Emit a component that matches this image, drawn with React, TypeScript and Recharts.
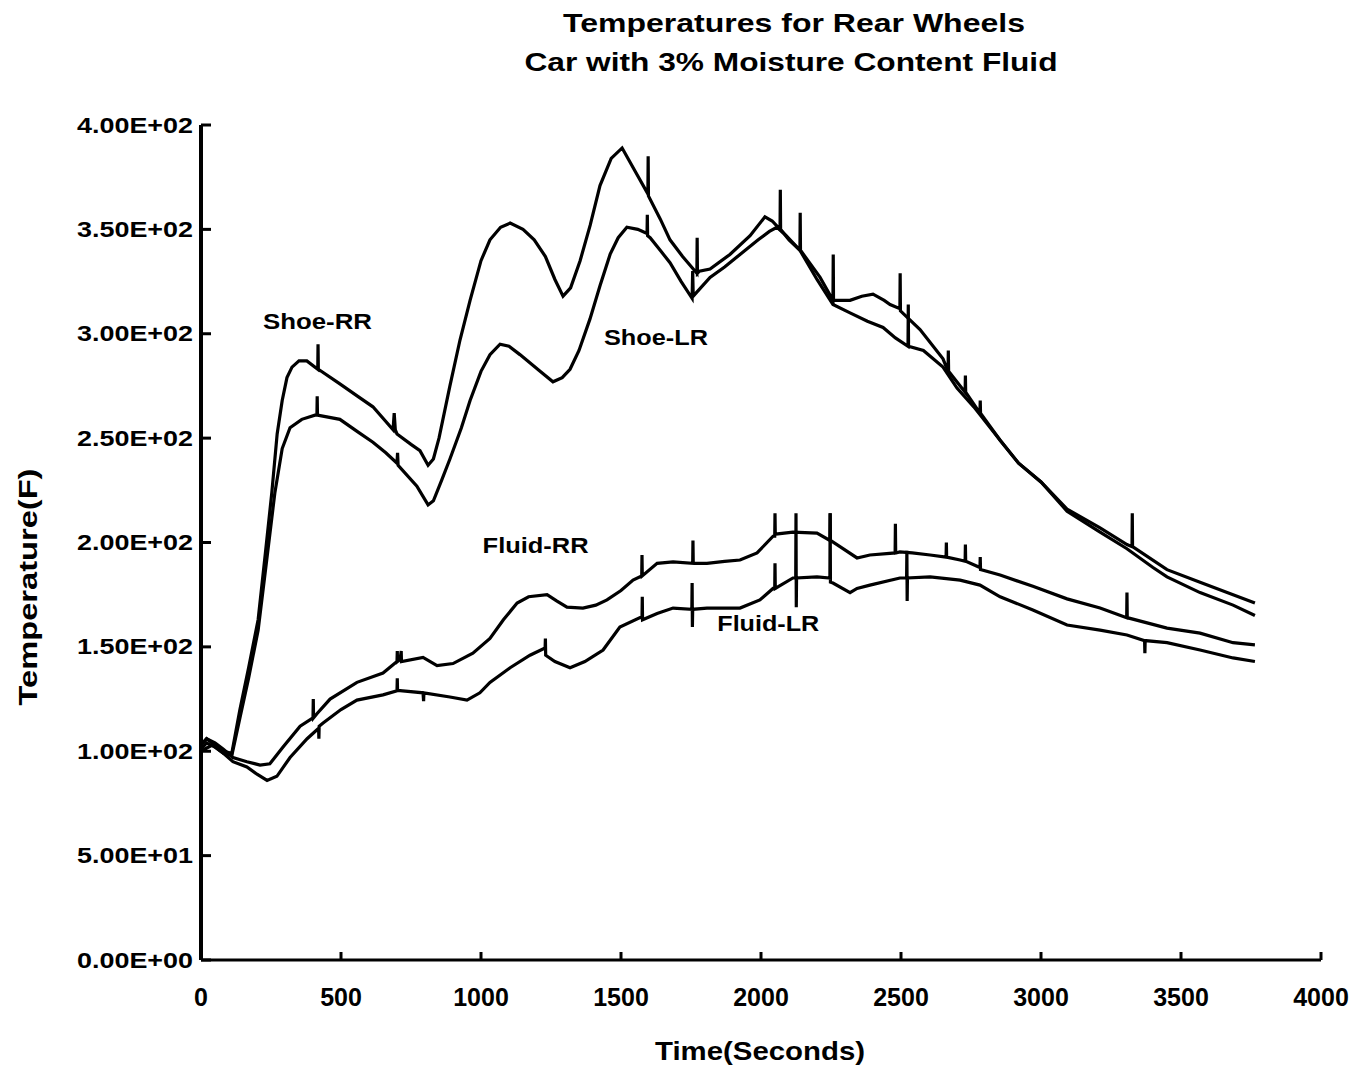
import React from 'react';
import { LineChart, Line, XAxis, YAxis, ReferenceDot } from 'recharts';

const FONT = '"Liberation Sans", Arial, Helvetica, sans-serif';

const titleLines = ['Temperatures for Rear Wheels', 'Car with 3% Moisture Content Fluid'];
const xAxisTitle = 'Time(Seconds)';
const yAxisTitle = 'Temperature(F)';

const xTicks = [0, 500, 1000, 1500, 2000, 2500, 3000, 3500, 4000];
const yTicks = [0, 50, 100, 150, 200, 250, 300, 350, 400];
const yTickLabels = ['0.00E+00', '5.00E+01', '1.00E+02', '1.50E+02', '2.00E+02', '2.50E+02', '3.00E+02', '3.50E+02', '4.00E+02'];

// [time (s), temperature (F)]
const shoeRR: [number, number][] = [
  [0, 103], [20, 106], [40, 104], [80, 100], [110, 99], [139, 120], [170, 140], [204, 163], [230, 195], [253, 224],
  [272, 252], [290, 268], [307, 279], [325, 284], [350, 287], [378, 287], [417, 283], [418, 295], [419, 283],
  [496, 276], [560, 270], [614, 265], [686, 254], [690, 262], [694, 254], [700, 252], [750, 247], [782, 244],
  [811, 237], [830, 240], [850, 250], [889, 275], [925, 297], [961, 316], [1000, 335], [1032, 345], [1070, 351],
  [1104, 353], [1150, 350], [1190, 345], [1230, 337], [1264, 326], [1293, 318], [1320, 322], [1354, 335],
  [1390, 352], [1425, 371], [1465, 384], [1504, 389], [1550, 378], [1596, 367], [1597, 385], [1598, 366],
  [1640, 355], [1675, 345], [1720, 337], [1771, 329], [1772, 346], [1773, 329], [1780, 330], [1818, 331],
  [1889, 338], [1961, 347], [2014, 356], [2040, 354], [2068, 350], [2069, 369], [2070, 350], [2100, 345],
  [2139, 340], [2140, 358], [2141, 340], [2211, 327], [2257, 316], [2258, 338], [2259, 316], [2318, 316],
  [2360, 318], [2400, 319], [2440, 316], [2461, 314], [2496, 312], [2497, 329], [2498, 311], [2568, 302],
  [2650, 288], [2668, 282], [2669, 292], [2670, 282], [2729, 272], [2730, 280], [2731, 272], [2782, 262],
  [2783, 268], [2784, 262], [2854, 249], [2920, 238], [3000, 229], [3093, 216], [3211, 207], [3307, 199],
  [3325, 198], [3326, 214], [3327, 198], [3450, 187], [3568, 181], [3686, 175], [3764, 171],
];

const shoeLR: [number, number][] = [
  [0, 100], [40, 103], [80, 99], [110, 98], [139, 116], [170, 135], [204, 158], [235, 192], [264, 224],
  [290, 245], [318, 255], [360, 259], [407, 261], [414, 261], [415, 270], [416, 261], [496, 259], [560, 253],
  [614, 248], [660, 243], [700, 238], [702, 243], [704, 237], [771, 227], [811, 218], [830, 220], [860, 230],
  [889, 240], [930, 255], [961, 268], [1000, 282], [1032, 290], [1068, 295], [1100, 294], [1139, 290],
  [1211, 282], [1257, 277], [1290, 279], [1318, 283], [1350, 292], [1389, 307], [1425, 323], [1461, 338],
  [1490, 346], [1521, 351], [1560, 350], [1593, 348], [1594, 357], [1595, 347], [1604, 346], [1640, 340],
  [1675, 334], [1715, 325], [1754, 317], [1756, 330], [1758, 318], [1818, 327], [1870, 332], [1925, 338],
  [1990, 345], [2030, 349], [2057, 351], [2090, 347], [2139, 340], [2200, 326], [2257, 314], [2318, 310],
  [2380, 306], [2436, 303], [2480, 298], [2525, 294], [2526, 314], [2527, 294], [2580, 292], [2650, 284],
  [2700, 274], [2760, 265], [2854, 249], [2920, 238], [3000, 229], [3093, 215], [3211, 205], [3307, 197],
  [3400, 188], [3450, 183.5], [3568, 176], [3686, 170], [3764, 165],
];

const fluidRR: [number, number][] = [
  [0, 103], [20, 106], [50, 104], [80, 101], [114, 97], [164, 95], [211, 93.4], [246, 94], [293, 102],
  [354, 112], [400, 116], [401, 125], [402, 116], [414, 118], [461, 125], [557, 133], [650, 137.5], [700, 143],
  [701, 148], [702, 143], [711, 144], [715, 148], [716, 143], [793, 145], [843, 141], [900, 142], [971, 147],
  [1032, 154], [1080, 163], [1129, 171], [1170, 174], [1236, 175], [1270, 172], [1307, 169], [1364, 168.6],
  [1410, 170], [1450, 172.5], [1500, 177], [1543, 182], [1574, 184], [1575, 194], [1576, 184], [1629, 190],
  [1686, 190.7], [1756, 190], [1757, 201], [1758, 190], [1807, 190], [1870, 191], [1925, 191.6], [1986, 195],
  [2043, 203], [2049, 203], [2050, 214], [2051, 204], [2114, 205], [2200, 204.5], [2246, 201], [2247, 214],
  [2248, 201], [2282, 198], [2343, 192.6], [2389, 194], [2479, 195], [2480, 209], [2481, 195], [2496, 195.5],
  [2540, 195], [2604, 194], [2661, 193], [2662, 200], [2663, 193], [2711, 191.6], [2729, 191], [2730, 199],
  [2731, 191], [2782, 188], [2783, 193], [2784, 187], [2854, 184.4], [2971, 179], [3093, 173], [3211, 168.6],
  [3306, 164], [3307, 176], [3308, 164], [3450, 159], [3568, 156.6], [3686, 152], [3764, 151],
];

const fluidLR: [number, number][] = [
  [0, 101], [20, 104], [50, 102], [80, 99], [114, 95], [164, 92.5], [200, 89], [236, 86], [271, 88], [318, 97],
  [379, 106], [420, 111], [421, 106], [422, 112], [436, 113.5], [500, 120], [557, 124.5], [650, 127], [700, 129],
  [701, 135], [702, 129], [711, 129], [793, 128], [795, 124], [796, 128], [889, 126], [950, 124.5], [996, 128],
  [1032, 133], [1104, 140], [1175, 146], [1229, 149.5], [1230, 154], [1231, 146], [1264, 143], [1318, 140],
  [1371, 143], [1436, 148.5], [1496, 159.5], [1568, 164], [1575, 164], [1576, 174], [1577, 163], [1629, 166],
  [1686, 168.6], [1753, 168], [1754, 180.6], [1755, 159.5], [1756, 168], [1807, 168.6], [1925, 168.6],
  [1996, 172.5], [2043, 178], [2049, 178], [2050, 190], [2051, 178], [2114, 183], [2124, 183], [2125, 214],
  [2126, 169], [2127, 183], [2200, 183.5], [2246, 183], [2247, 214], [2248, 181], [2257, 180.6], [2318, 176],
  [2343, 178], [2389, 179.6], [2496, 183], [2520, 183], [2521, 196], [2522, 172], [2523, 183], [2604, 183.5],
  [2711, 182], [2782, 179.6], [2854, 174], [2971, 167.7], [3093, 160.5], [3211, 158], [3307, 155.7], [3370, 153],
  [3371, 147], [3372, 153], [3450, 152], [3568, 148.5], [3686, 144.7], [3764, 143],
];

const seriesNames = ['Shoe-RR', 'Shoe-LR', 'Fluid-RR', 'Fluid-LR'];
const seriesValues = [shoeRR, shoeLR, fluidRR, fluidLR];

const annotationTexts = ['Shoe-RR', 'Shoe-LR', 'Fluid-RR', 'Fluid-LR'];
const annotationTimes = [416, 1625, 1195, 2026];
const annotationTemps = [306, 298, 198.6, 161.3];
const annotationWidths = [109, 104, 106, 102];

const toPoints = (s: [number, number][]) => s.map(([t, v]) => ({ t, v }));

const XTick = (props: any) => {
  const { x, y, payload } = props;
  return (
    <g>
      <line x1={x} x2={x} y1={y - 37} y2={y - 45} stroke="#000" strokeWidth={3} />
      <text x={x} y={y} textAnchor="middle" dominantBaseline="central" fontFamily={FONT} fontWeight="bold" fontSize={25} fill="#000">
        {String(payload.value)}
      </text>
    </g>
  );
};

const YTick = (props: any) => {
  const { x, y, payload } = props;
  const label = yTickLabels[yTicks.indexOf(payload.value)];
  return (
    <g>
      <line x1={x + 8} x2={x + 18} y1={y} y2={y} stroke="#000" strokeWidth={3} />
      <text x={x} y={y} textAnchor="end" dominantBaseline="central" fontFamily={FONT} fontWeight="bold" fontSize={22} fill="#000" textLength={116} lengthAdjust="spacingAndGlyphs">
        {label}
      </text>
    </g>
  );
};

export default function App() {
  return (
    <div style={{ position: 'absolute', left: 0, top: 0, width: 1362, height: 1071, background: '#fff' }}>
      <LineChart width={1362} height={1071} margin={{ top: 125, right: 41, bottom: 81, left: 141 }}>
        <XAxis
          type="number"
          dataKey="t"
          domain={[0, 4000]}
          ticks={xTicks}
          interval={0}
          height={30}
          axisLine={{ stroke: '#000', strokeWidth: 3 }}
          tickLine={false}
          tickSize={-8}
          tickMargin={45}
          tick={<XTick />}
        />
        <YAxis
          type="number"
          dataKey="v"
          domain={[0, 400]}
          ticks={yTicks}
          interval={0}
          width={60}
          axisLine={{ stroke: '#000', strokeWidth: 4 }}
          tickLine={false}
          tickSize={-9}
          tickMargin={17}
          tick={<YTick />}
        />
        {seriesValues.map((s, i) => (
          <Line
            key={seriesNames[i]}
            name={seriesNames[i]}
            data={toPoints(s)}
            dataKey="v"
            type="linear"
            stroke="#000"
            strokeWidth={3.2}
            dot={false}
            activeDot={false}
            isAnimationActive={false}
          />
        ))}
        {annotationTexts.map((txt, i) => (
          <ReferenceDot
            key={txt}
            x={annotationTimes[i]}
            y={annotationTemps[i]}
            r={0}
            shape={(p: any) => (
              <text x={p.cx} y={p.cy} textAnchor="middle" dominantBaseline="central" fontFamily={FONT} fontWeight="bold" fontSize={22} fill="#000" textLength={annotationWidths[i]} lengthAdjust="spacingAndGlyphs">
                {txt}
              </text>
            )}
          />
        ))}
      </LineChart>
      <svg width={1362} height={1071} style={{ position: 'absolute', left: 0, top: 0, pointerEvents: 'none' }}>
        <text x={794} y={23} textAnchor="middle" dominantBaseline="central" fontFamily={FONT} fontWeight="bold" fontSize={25} textLength={462} lengthAdjust="spacingAndGlyphs">
          {titleLines[0]}
        </text>
        <text x={791} y={62} textAnchor="middle" dominantBaseline="central" fontFamily={FONT} fontWeight="bold" fontSize={25} textLength={533} lengthAdjust="spacingAndGlyphs">
          {titleLines[1]}
        </text>
        <text x={760} y={1051} textAnchor="middle" dominantBaseline="central" fontFamily={FONT} fontWeight="bold" fontSize={25} textLength={210} lengthAdjust="spacingAndGlyphs">
          {xAxisTitle}
        </text>
        <text x={28} y={587} transform="rotate(-90 28 587)" textAnchor="middle" dominantBaseline="central" fontFamily={FONT} fontWeight="bold" fontSize={25} textLength={237} lengthAdjust="spacingAndGlyphs">
          {yAxisTitle}
        </text>
      </svg>
    </div>
  );
}
